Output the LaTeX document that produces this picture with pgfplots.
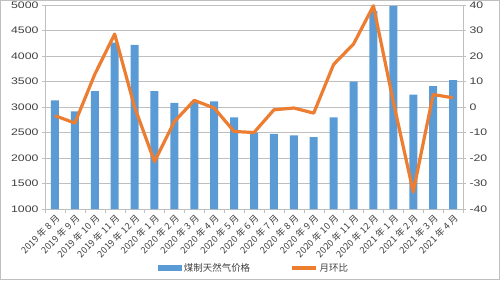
\documentclass[border=0pt]{standalone}
\usepackage{fontspec}
\setmainfont{Liberation Sans}
\newfontfamily\numfont[FakeStretch=1.3]{Liberation Sans}
\newfontfamily\cjk{Noto Sans CJK SC}
\usepackage{pgfplots}
\pgfplotsset{compat=1.18}
\definecolor{barblue}{HTML}{5B9BD5}
\definecolor{lineorange}{HTML}{ED7D31}
\definecolor{txt}{HTML}{404040}
\definecolor{gridc}{HTML}{BFBFBF}
\begin{document}
\begin{tikzpicture}[x=1bp,y=1bp]
\useasboundingbox (0,0) rectangle (500,280);
\draw[gridc,line width=0.8bp] (0.4,0.4) rectangle (499.6,279.6);
\begin{axis}[
  at={(45bp,71bp)}, anchor=south west,
  scale only axis, width=418bp, height=204bp,
  xmin=-0.5, xmax=20.5, ymin=1000, ymax=5000,
  ytick={1000,1500,...,5000},
  xtick={0,...,20},
  xticklabels={2019 年 8 月,2019 年 9 月,2019 年 10 月,2019 年 11 月,2019 年 12 月,2020 年 1 月,2020 年 2 月,2020 年 3 月,2020 年 4 月,2020 年 5 月,2020 年 6 月,2020 年 7 月,2020 年 8 月,2020 年 9 月,2020 年 10 月,2020 年 11 月,2020 年 12 月,2021 年 1 月,2021 年 2 月,2021 年 3 月,2021 年 4 月},
  xticklabel style={font=\cjk\fontsize{9.2}{10}\selectfont, rotate=45, anchor=north east, inner sep=1pt, text=txt},
  major x tick style={draw=none},
  minor xtick={-0.5,0.5,...,20.5},
  minor x tick style={draw=gridc},
  yticklabel style={font=\numfont\fontsize{9.5}{10}\selectfont, text=txt},
  /pgf/number format/assume math mode=true,
  /pgf/number format/1000 sep={},
  ymajorgrids, grid style={gridc, line width=0.8bp},
  axis x line*=bottom, axis y line*=left,
  axis line style={gridc, line width=0.8bp},
  y tick style={gridc},
  tick align=outside, tick pos=left,
  major tick length=3bp, minor tick length=4bp,
  clip=false,
  legend style={at={(0.5,-0.29)}, anchor=center, draw=none, fill=none, legend columns=2, font=\cjk\fontsize{9.5}{10}\selectfont, text=txt, inner sep=0pt, /tikz/every even column/.append style={column sep=38bp}},
]
\addplot[ybar, bar width=8bp, fill=barblue, draw=none,
  legend image code/.code={\fill[barblue] (0bp,-3bp) rectangle (24bp,3bp);}] coordinates {
(0,3130) (1,2915) (2,3310) (3,4260) (4,4220) (5,3310) (6,3080) (7,3110) (8,3110) (9,2795) (10,2500) (11,2475) (12,2445) (13,2410) (14,2795) (15,3500) (16,4880) (17,4985) (18,3245) (19,3410) (20,3525)
};
\addlegendentry{煤制天然气价格}
\addlegendimage{legend image code/.code={\draw[lineorange, line width=3.5bp] (0bp,0bp) -- (24bp,0bp);}}
\addlegendentry{月环比}
\end{axis}
\begin{axis}[
  at={(45bp,71bp)}, anchor=south west,
  scale only axis, width=418bp, height=204bp,
  xmin=-0.5, xmax=20.5, ymin=-40, ymax=40,
  ytick={-40,-30,...,40},
  axis x line=none, axis y line*=right,
  axis line style={gridc, line width=0.8bp},
  y tick style={gridc},
  tick align=outside,
  major tick length=3bp,
  yticklabel style={font=\numfont\fontsize{9.5}{10}\selectfont, text=txt},
  /pgf/number format/assume math mode=true,
  clip=false,
]
\addplot[lineorange, line width=3.2bp, line join=round] coordinates {
(0,-3.4) (1,-6.3) (2,12.8) (3,28.6) (4,0) (5,-21.4) (6,-5.7) (7,2.6) (8,-0.4) (9,-9.6) (10,-10) (11,-1.1) (12,-0.4) (13,-2.4) (14,16.7) (15,24.7) (16,39.7) (17,2) (18,-33.3) (19,4.9) (20,3.6)
};
\end{axis}
\end{tikzpicture}
\end{document}
